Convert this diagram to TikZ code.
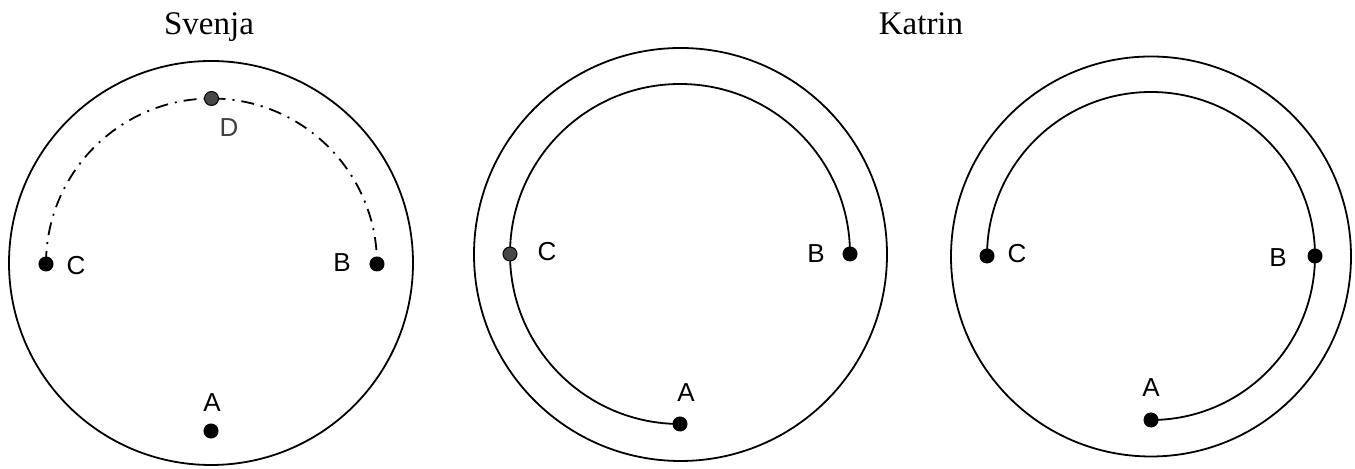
\documentclass[tikz,border=0pt]{standalone}
\usepackage{fontspec}
\setmainfont{Liberation Serif}
\newfontfamily\labfont{Liberation Sans}
\begin{document}
\begin{tikzpicture}[x=0.5pt,y=0.5pt,
  ring/.style={draw=black,line width=0.9pt},
  track/.style={draw=black,line width=0.9pt},
  dotpt/.style={circle,draw=black,fill=black,inner sep=0pt,minimum size=7pt,line width=0.5pt},
  graypt/.style={circle,draw=black,fill=black!72,inner sep=0pt,minimum size=7pt,line width=0.5pt},
  lab/.style={font=\labfont\fontsize{13}{15}\selectfont,inner sep=0pt},
  ttl/.style={font=\fontsize{16.5}{20}\selectfont,inner sep=0pt,anchor=base}]
\useasboundingbox (0,0) rectangle (1355,469);
% titles
\node[ttl] (t1) at (209,434) {Svenja};
\node[ttl] (t2) at (921,434) {Katrin};
% ---------- panel 1 ----------
\coordinate (O1) at (211,206);
\draw[ring] (O1) circle[radius=101pt];
\coordinate (C1c) at (46,205);
\draw[track,dash pattern=on 6.5pt off 3.5pt on 1pt off 3.5pt] (C1c) arc[start angle=180,end angle=0,radius=82.75pt];
\node[dotpt] (C1) at (C1c) {};
\node[dotpt] (B1) at (377,205) {};
\node[graypt] (D1) at (211.5,370.5) {};
\node[dotpt] (A1) at (211,38) {};
\node[lab] (lC1) at (76,203) {C};
\node[lab] (lB1) at (342,206) {B};
\node[lab,text=black!75] (lD1) at (229,341) {D};
\node[lab] (lA1) at (212,66) {A};
% ---------- panel 2 ----------
\coordinate (O2) at (680.5,214.5);
\draw[ring] (O2) circle[radius=103.25pt];
\coordinate (B2c) at (850,215);
\draw[track] (B2c) arc[start angle=0,end angle=270,radius=85pt];
\node[dotpt] (B2) at (B2c) {};
\node[graypt] (C2) at (510,215) {};
\node[dotpt] (A2) at (680,45) {};
\node[lab] (lC2) at (547,217) {C};
\node[lab] (lB2) at (816,215) {B};
\node[lab] (lA2) at (686,76) {A};
% ---------- panel 3 ----------
\coordinate (O3) at (1151,212.5);
\draw[ring] (O3) circle[radius=100pt];
\coordinate (C3c) at (987,213);
\draw[track] (C3c) arc[start angle=180,end angle=-90,radius=82pt];
\node[dotpt] (C3) at (C3c) {};
\node[dotpt] (B3) at (1315,213) {};
\node[dotpt] (A3) at (1151,49) {};
\node[lab] (lC3) at (1017,215) {C};
\node[lab] (lB3) at (1278,211) {B};
\node[lab] (lA3) at (1151,81) {A};
\end{tikzpicture}
\end{document}
